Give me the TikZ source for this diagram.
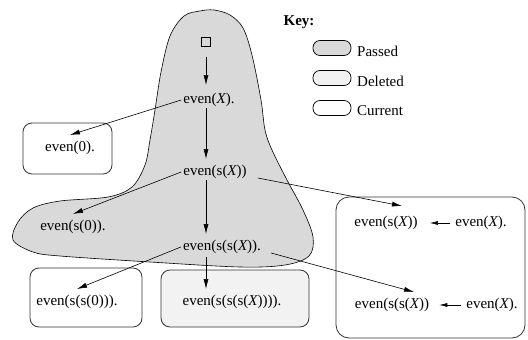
\documentclass[tikz,border=0pt]{standalone}
\usepackage{fontspec}
\setmainfont{Liberation Serif}
\usetikzlibrary{arrows.meta}

\tikzset{
  term/.style={inner xsep=2pt, inner ysep=6pt, font=\fontsize{15}{18}\selectfont},
  curbox/.style={draw=black!80, line width=0.8pt, rounded corners=9pt, inner sep=0pt},
  delbox/.style={curbox, fill=black!5},
  keycap/.style={draw, line width=0.7pt, rounded corners=7pt, minimum width=38pt, minimum height=15pt, inner sep=0pt},
  arr/.style={-{Latex[length=10pt,width=5pt]}, line width=0.6pt},
}
\newcommand{\vX}{{\itshape X}}

\begin{document}
\begin{tikzpicture}[x=1pt,y=-1pt]
				\useasboundingbox (0,0) rectangle (528,340);

				% Passed region
				\filldraw[fill=black!15, draw=black, line width=0.6pt] plot[smooth cycle, tension=0.55] coordinates {
					(200,11) (214,10) (230,15) (243,28) (252,55) (261,100) (265,130) (272,150) (287,180)
					(303,210) (313,237) (309,256) (285,265) (240,267) (150,262) (60,256) (33,252)
					(13,240) (18,222) (33,208) (60,201) (108,197) (132,187) (145,165) (150,140)
					(155,110) (161,72) (170,36) (184,16)};

				% Current and deleted boxes
				\node[curbox, minimum width=89pt, minimum height=51pt] (box0) at (67.5,148.5) {};
				\node[curbox, minimum width=112pt, minimum height=59pt] (boxss0) at (86,297.5) {};
				\node[delbox, minimum width=148pt, minimum height=57pt] (boxdel) at (235,298.5) {};
				\node[curbox, rounded corners=13pt, minimum width=189pt, minimum height=141pt] (boxright) at (430.5,267.5) {};

				% Goals
				\node[draw, line width=0.6pt, minimum size=9pt, inner sep=0pt] (root) at (206,42) {};
				\node[term] (ex) at (209,100) {even(\vX).};
				\node[term] (esx) at (215,172) {even(s(\vX))};
				\node[term] (essx) at (222,247) {even(s(s(\vX)).};
				\node[term] (e0) at (70,148) {even(0).};
				\node[term] (es0) at (73,227) {even(s(0)).};
				\node[term] (ess0) at (77,302) {even(s(s(0))).};
				\node[term] (esssx) at (232,302) {even(s(s(s(\vX)))).};

				% Clauses in the right box
				\node[term] (goal1) at (386,223) {even(s(\vX))};
				\node[term] (cl1) at (481,223) {even(\vX).};
				\node[term] (goal2) at (392,305) {even(s(s(\vX))};
				\node[term] (cl2) at (492,305) {even(\vX).};
				\draw[-{Latex[length=8pt,width=4pt]}, line width=0.6pt, shorten <=3pt, shorten >=10pt] (cl1.west) -- (goal1.east);
				\draw[-{Latex[length=8pt,width=4pt]}, line width=0.6pt, shorten <=3pt, shorten >=8pt] (cl2.west) -- (goal2.east);

				% Derivation
				\draw[arr, shorten <=10pt, shorten >=2pt] (root.south) -- (root.south |- ex.north);
				\draw[arr, shorten <=-5pt] (root.south |- ex.south) -- (root.south |- esx.north);
				\draw[arr, shorten <=-5pt] (root.south |- esx.south) -- (root.south |- essx.north);
				\draw[arr, shorten <=-3pt] (root.south |- essx.south) -- (root.south |- esssx.north);
				\draw[arr] (ex.west) -- (e0.north);
				\draw[arr] (esx.west) -- (es0.north);
				\draw[arr] (essx.west) -- (ess0.north);
				\draw[arr] ([xshift=9pt,yshift=-6pt]esx.east) -- ([xshift=16pt,yshift=4pt]goal1.north);
				\draw[arr] ([xshift=8pt,yshift=-6pt]essx.east) -- ([xshift=22pt]goal2.north);

				% Key
				\node[font=\fontsize{15}{18}\selectfont\bfseries, inner sep=0pt] (keytitle) at (299,22) {Key:};
				\node[keycap, fill=black!15] (kpassed) at (332,48) {};
				\node[keycap, fill=black!5] (kdeleted) at (332,78) {};
				\node[keycap] (kcurrent) at (332,108) {};
				\node[term, inner xsep=0pt, anchor=west] (lpassed) at (357,51) {Passed};
				\node[term, inner xsep=0pt, anchor=west] (ldeleted) at (357,81) {Deleted};
				\node[term, inner xsep=0pt, anchor=west] (lcurrent) at (357,110.5) {Current};
			\end{tikzpicture}
\end{document}
